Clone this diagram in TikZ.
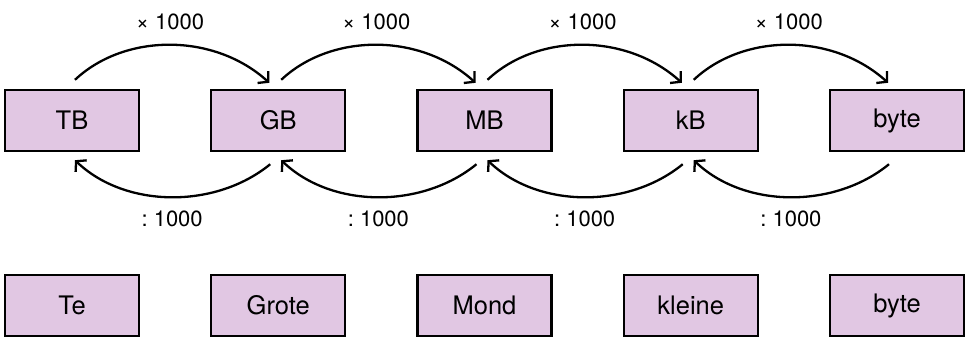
\documentclass[tikz,border=0pt]{standalone}
\usepackage{fontspec}
\setmainfont{TeX Gyre Heros}
\usetikzlibrary{arrows.meta}
\definecolor{boxfill}{RGB}{225,199,227}
\begin{document}
\begin{tikzpicture}[x=1pt,y=1pt,
  unitbox/.style={draw=black,line width=2.4pt,fill=boxfill,minimum width=134pt,minimum height=61pt,inner sep=0pt,font=\fontsize{25.5}{30}\selectfont},
  conv/.style={line width=2.3pt,-{Straight Barb[length=7pt,width=16pt,line width=2.3pt]}},
  lbl/.style={font=\fontsize{22}{26}\selectfont,inner sep=0pt}]
\useasboundingbox (0,0) rectangle (968,338);
\foreach \n/\t/\b/\x in {a/TB/Te/72, b/GB/Grote/278.25, c/MB/Mond/484.5, d/kB/kleine/690.75, e/byte/byte/897}{
  \node[unitbox] (\n) at (\x,217.5) {\t};
  \node[unitbox] (\n2) at (\x,32.5) {\b};
}
\foreach \p/\q in {a/b, b/c, c/d, d/e}{
  \draw[conv] ([shift={(3,9)}]\p.north) .. controls +(50,47) and +(-55,50) .. ([shift={(-9,6)}]\q.north);
  \draw[conv] ([shift={(-8,-12)}]\q.south) .. controls +(-55,-45) and +(50,-48) .. ([shift={(3,-8)}]\p.south);
  \path (\p.north) -- (\q.north) node[midway,lbl,yshift=67pt,xshift=-5pt] (t\p) {\texttimes\ 1000};
  \path (\p.south) -- (\q.south) node[midway,lbl,yshift=-67pt,xshift=-3pt] (s\p) {:\ 1000};
}
\end{tikzpicture}
\end{document}
